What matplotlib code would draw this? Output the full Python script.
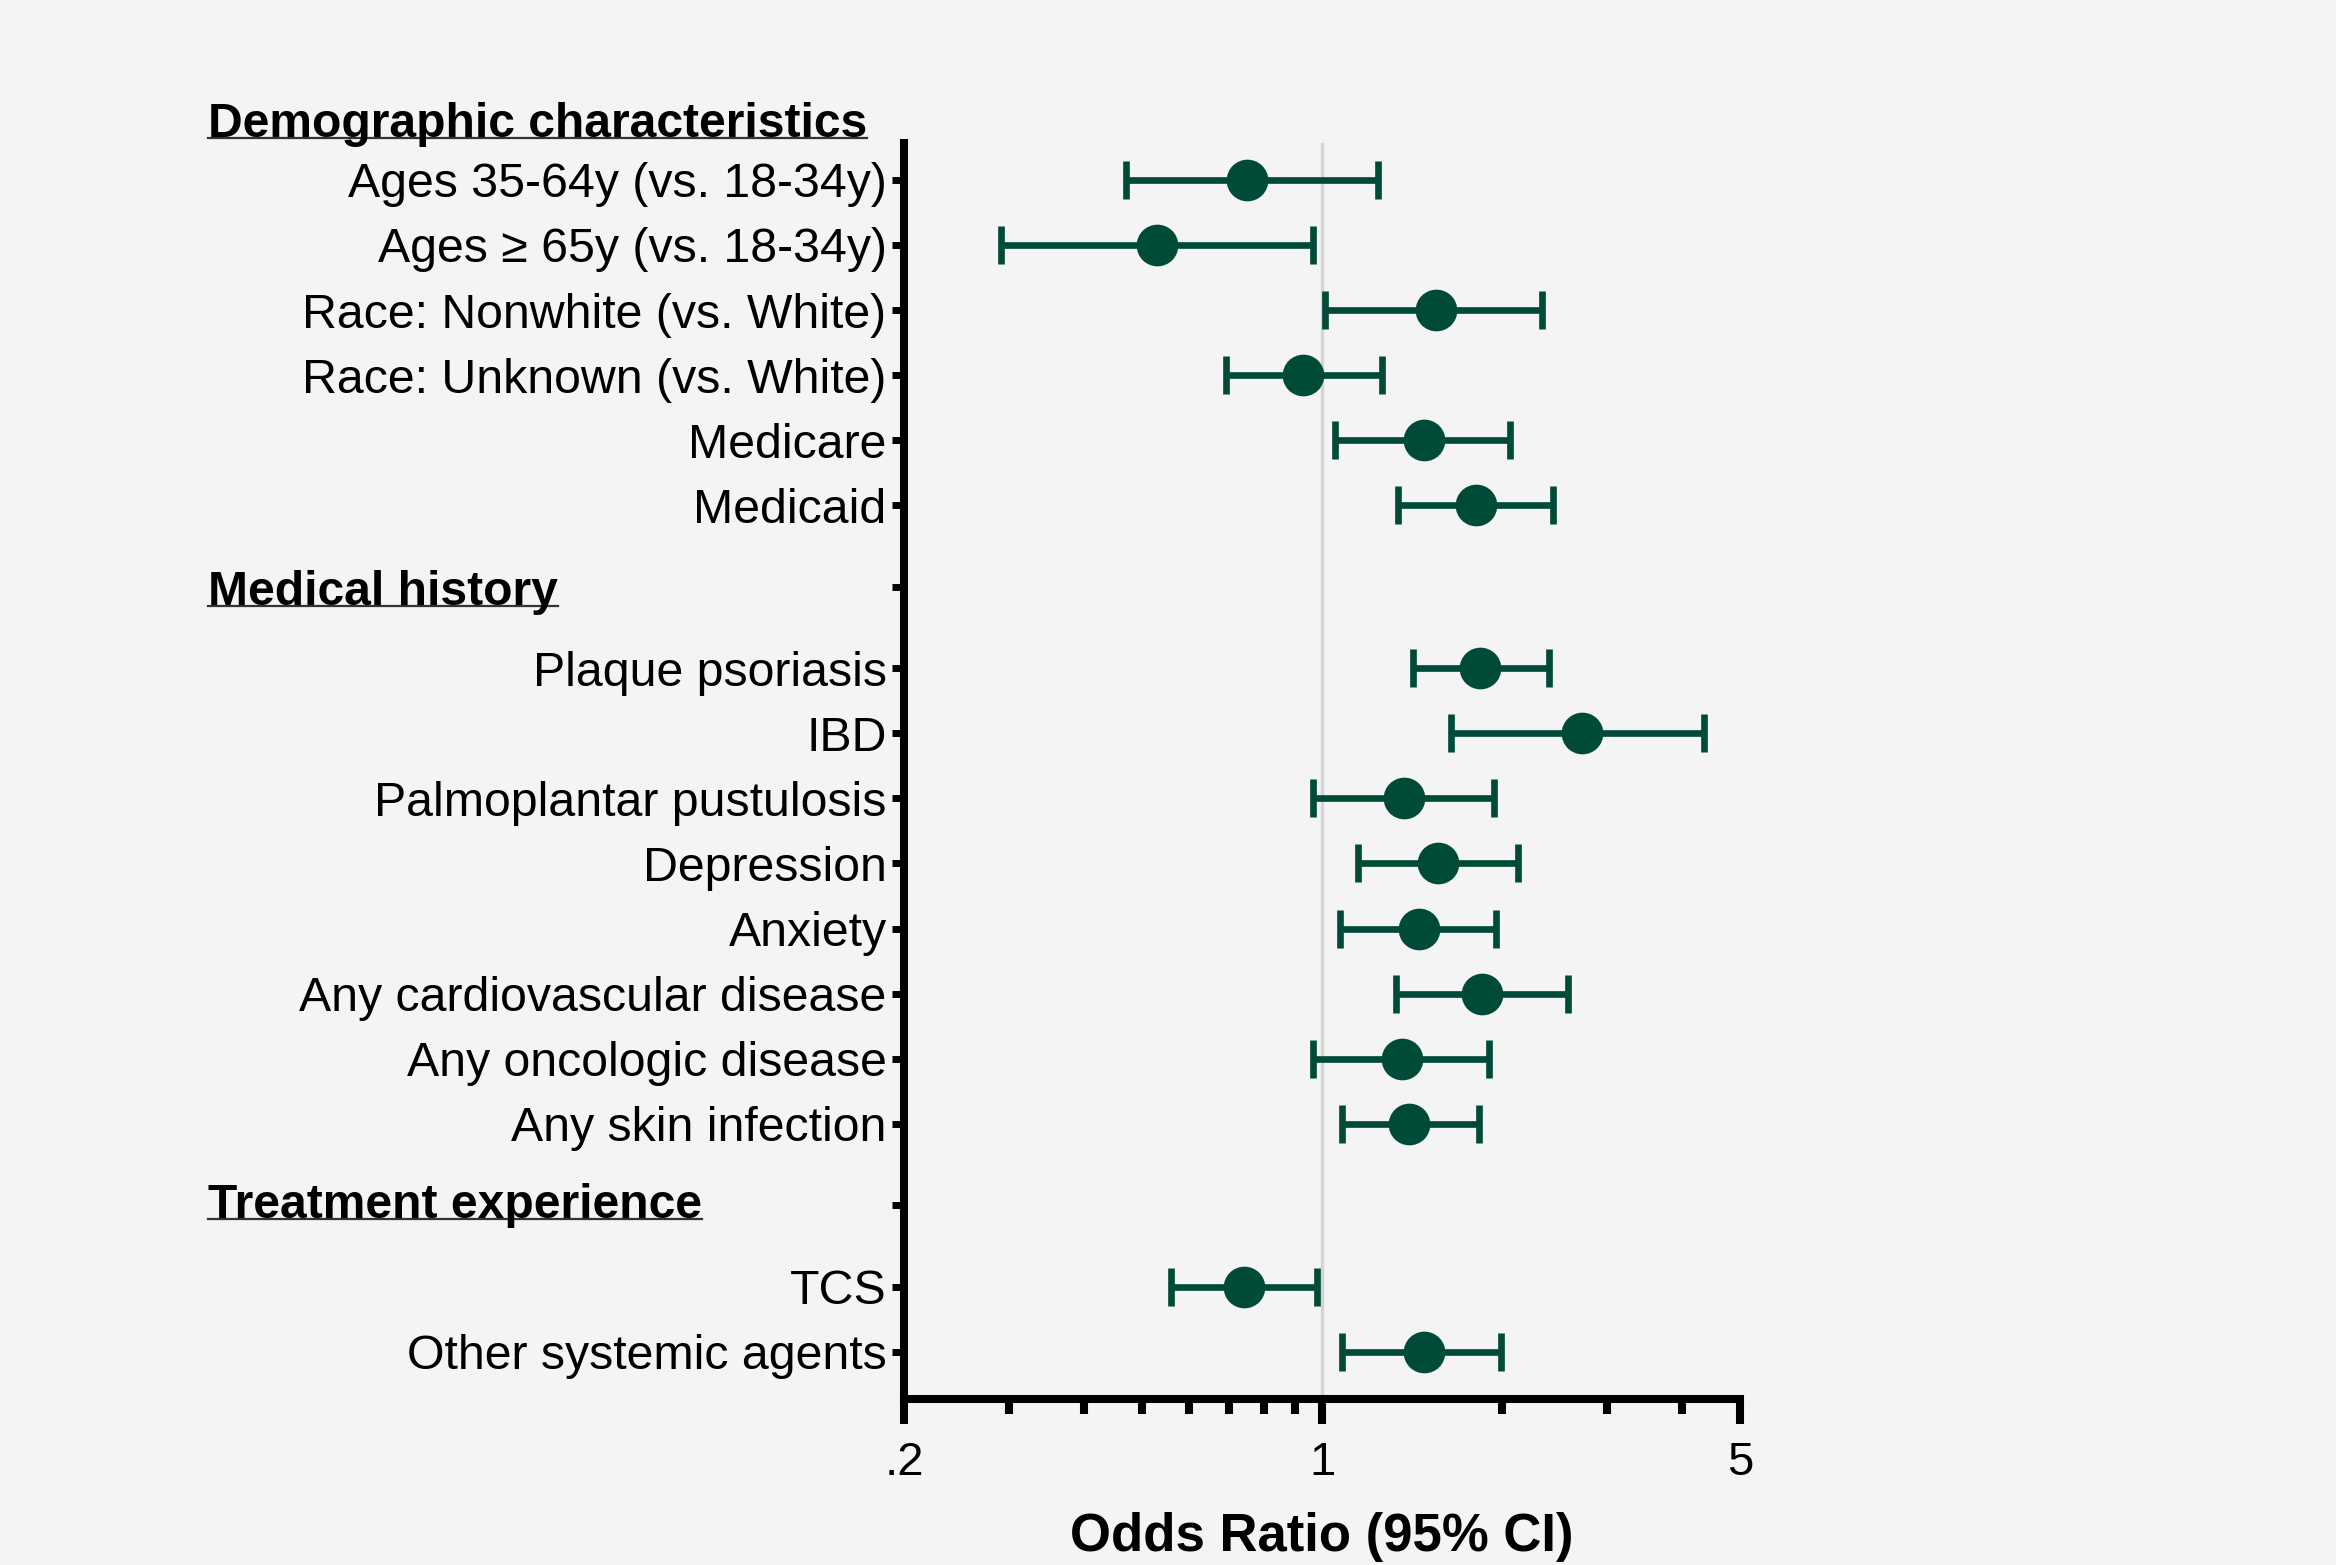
"""
Forest plot of odds ratios (95% CI) by patient characteristic.
"""
import matplotlib
matplotlib.use("Agg")
import matplotlib.pyplot as plt
from matplotlib.ticker import FixedLocator, FixedFormatter, NullFormatter

plt.rcParams["font.family"] = ["Liberation Sans", "DejaVu Sans"]

# data
labels = [
    "Ages 35-64y (vs. 18-34y)", "Ages \u2265 65y (vs. 18-34y)",
    "Race: Nonwhite (vs. White)", "Race: Unknown (vs. White)",
    "Medicare", "Medicaid",
    "Plaque psoriasis", "IBD", "Palmoplantar pustulosis", "Depression",
    "Anxiety", "Any cardiovascular disease", "Any oncologic disease",
    "Any skin infection",
    "TCS", "Other systemic agents",
]
row_pos = [0, 1, 2, 3, 4, 5,
           7.5, 8.5, 9.5, 10.5, 11.5, 12.5, 13.5, 14.5,
           17, 18]
odds = [0.75, 0.53, 1.55, 0.93, 1.48, 1.81,
        1.84, 2.72, 1.37, 1.56, 1.45, 1.85, 1.36, 1.40,
        0.74, 1.48]
ci_low = [0.47, 0.29, 1.01, 0.69, 1.05, 1.34,
          1.42, 1.64, 0.965, 1.15, 1.07, 1.33, 0.965, 1.08,
          0.56, 1.08]
ci_high = [1.24, 0.965, 2.33, 1.26, 2.06, 2.43,
           2.40, 4.35, 1.94, 2.13, 1.95, 2.58, 1.90, 1.83,
           0.98, 1.99]

sections = ["Demographic characteristics", "Medical history", "Treatment experience"]
section_baseline = [-0.665, 6.53, 15.94]
section_ticks = [6.25, 15.75]

x_major = [0.2, 1, 5]
x_major_labels = [".2", "1", "5"]
x_minor = [0.3, 0.4, 0.5, 0.6, 0.7, 0.8, 0.9, 2, 3, 4]

GREEN = "#004b38"
BG = "#f4f4f4"

fig = plt.figure(figsize=(11.68, 7.825), dpi=200, facecolor=BG)
ax = fig.add_axes([0.387, 0.1059, 0.7449 - 0.387, 0.9088 - 0.1059])
ax.set_facecolor(BG)

ax.axvline(1, color="#d4d4d4", lw=1.2, zorder=0)

xerr = [[o - lo for o, lo in zip(odds, ci_low)],
        [hi - o for o, hi in zip(odds, ci_high)]]
ax.errorbar(odds, row_pos, xerr=xerr, fmt="o", color=GREEN, ms=14,
            elinewidth=2.4, capsize=7, capthick=2.4, zorder=3)

ax.set_xscale("log")
ax.set_xlim(0.2, 5)
ax.set_ylim(18.73, -0.57)

ax.xaxis.set_major_locator(FixedLocator(x_major))
ax.xaxis.set_major_formatter(FixedFormatter(x_major_labels))
ax.xaxis.set_minor_locator(FixedLocator(x_minor))
ax.xaxis.set_minor_formatter(NullFormatter())
ax.tick_params(axis="x", which="major", length=9, width=2.9, labelsize=17, pad=6)
ax.tick_params(axis="x", which="minor", length=5.5, width=2.9)

ax.set_yticks(row_pos + section_ticks)
ax.set_yticklabels(labels + ["", ""])
ax.tick_params(axis="y", length=4.3, width=2.5, labelsize=17.4, pad=2)

for side in ["top", "right"]:
    ax.spines[side].set_visible(False)
for side in ["left", "bottom"]:
    ax.spines[side].set_linewidth(2.9)

ax.set_xlabel("Odds Ratio (95% CI)", fontsize=19, fontweight="bold")
ax.xaxis.set_label_coords(0.5, -0.1205)
ax.xaxis.label.set_va("baseline")

# section headings, underlined
heading_texts = []
for name, yb in zip(sections, section_baseline):
    t = ax.text(-0.8325, yb, name, transform=ax.get_yaxis_transform(),
                ha="left", va="baseline", fontsize=17.3, fontweight="bold",
                clip_on=False)
    heading_texts.append((t, yb))

fig.canvas.draw()
renderer = fig.canvas.get_renderer()
inv = ax.transAxes.inverted()
for t, yb in heading_texts:
    bb = t.get_window_extent(renderer)
    x0 = inv.transform((bb.x0, 0))[0]
    x1 = inv.transform((bb.x1, 0))[0]
    ax.plot([x0, x1], [yb + 0.02, yb + 0.02], color="#333333", lw=0.8,
            transform=ax.get_yaxis_transform(), clip_on=False)

fig.savefig("out.png", dpi=200, facecolor=BG)
